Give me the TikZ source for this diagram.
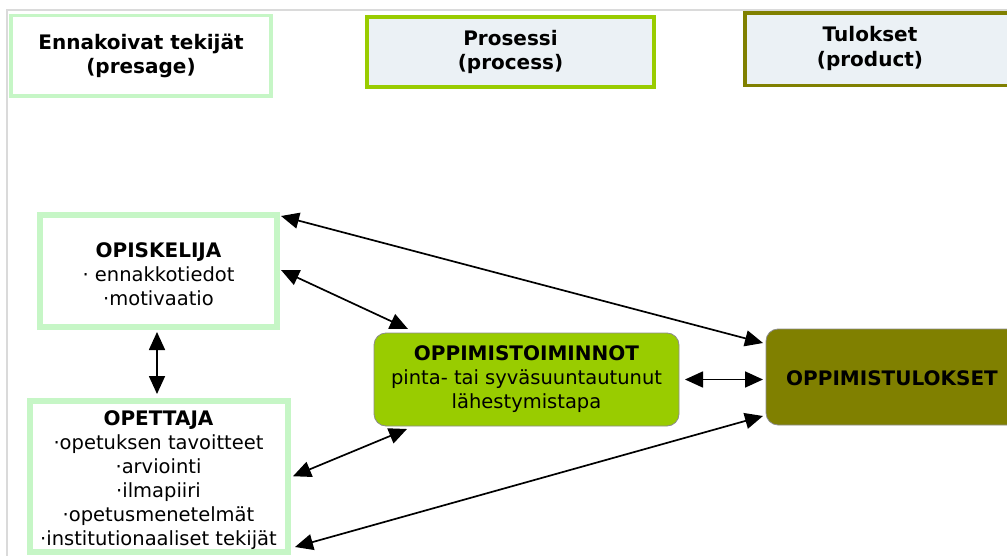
\documentclass[tikz,border=0pt]{standalone}
\usepackage{fontspec}
\setmainfont{DejaVu Sans}
\usetikzlibrary{arrows.meta,calc}
\definecolor{framegray}{RGB}{218,218,218}
\definecolor{palegreen}{RGB}{198,246,198}
\definecolor{limegreen}{RGB}{153,204,0}
\definecolor{olivebrown}{RGB}{128,128,0}
\definecolor{headfill}{RGB}{235,241,245}
\definecolor{edgegray}{RGB}{140,140,140}
\tikzset{
  txt/.style={font=\fontsize{19.5}{24}\selectfont, align=center, inner sep=0pt, outer sep=0pt},
  boldtxt/.style={txt, font=\fontsize{20}{24.5}\selectfont\bfseries},
  headbox/.style={boldtxt, line width=3.5pt},
  factorbox/.style={txt, draw=palegreen, fill=white, line width=6pt},
  roundbox/.style={txt, draw=edgegray, line width=0.8pt, rounded corners=12pt},
  link/.style={line width=1.7pt, {Triangle[length=18pt,width=16pt]}-{Triangle[length=18pt,width=16pt]}},
}
\newcommand{\hd}[1]{{\fontsize{20}{24}\selectfont\bfseries #1}}
\begin{document}
\begin{tikzpicture}[x=1pt,y=-1pt]
\useasboundingbox (0,0) rectangle (1007,556);
% page frame
\draw[framegray, line width=2pt] (7,560) -- (7,10) -- (1010,10);

% column headings
\node[headbox, draw=palegreen, fill=white, minimum width=260pt, minimum height=80.5pt]
  (pre) at (141,55.75) {Ennakoivat tekijät\\(presage)};
\node[headbox, draw=limegreen, fill=headfill, minimum width=287pt, minimum height=70pt]
  (proc) at (510.5,52) {Prosessi\\(process)};
\node[headbox, draw=olivebrown, fill=headfill, minimum width=270pt, minimum height=72.5pt]
  (prod) at (880,49.25) {};
\node[boldtxt] (prodtxt) at (870,48.5) {Tulokset\\(product)};

% presage factors
\node[factorbox, minimum width=237pt, minimum height=112pt] (opisk) at (158.5,271) {};
\node[txt] (opisktxt) at (158.5,274.5) {\hd{OPISKELIJA}\\· ennakkotiedot\\·motivaatio};
\node[factorbox, minimum width=258pt, minimum height=151.5pt] (opett) at (158.5,476.25) {};
\node[txt] (opetttxt) at (158.5,480.5)
  {\hd{OPETTAJA}\\·opetuksen tavoitteet\\·arviointi\\·ilmapiiri\\·opetusmenetelmät\\·institutionaaliset tekijät};

% process and product
\node[roundbox, fill=limegreen, minimum width=305pt, minimum height=93pt] (act) at (526.5,379.5)
  {\hd{OPPIMISTOIMINNOT}\\pinta- tai syväsuuntautunut\\lähestymistapa};
\node[roundbox, fill=olivebrown, minimum width=259pt, minimum height=96pt] (out) at (895.5,377) {};
\node[boldtxt] (outtxt) at (892,378) {OPPIMISTULOKSET};

% interactions
\draw[link] ($(opisk.north east)+(4,1)$) -- ($(out.north west)+(-3,14)$);
\draw[link] ($(opisk.east)+(4,-1)$) -- ($(act.north west)+(34,-4)$);
\draw[link] ($(opisk.south)+(-1.5,5)$) -- ($(opett.north)+(-1.5,-6.5)$);
\draw[link] ($(opett.east)+(5.5,0)$) -- ($(act.south west)+(33,3)$);
\draw[link] ($(opett.south east)+(7.5,-5)$) -- ($(out.south west)+(-3,-9)$);
\draw[link] ($(act.east)+(6,0)$) -- ($(act.east -| out.west)+(-3,0)$);
\end{tikzpicture}
\end{document}
